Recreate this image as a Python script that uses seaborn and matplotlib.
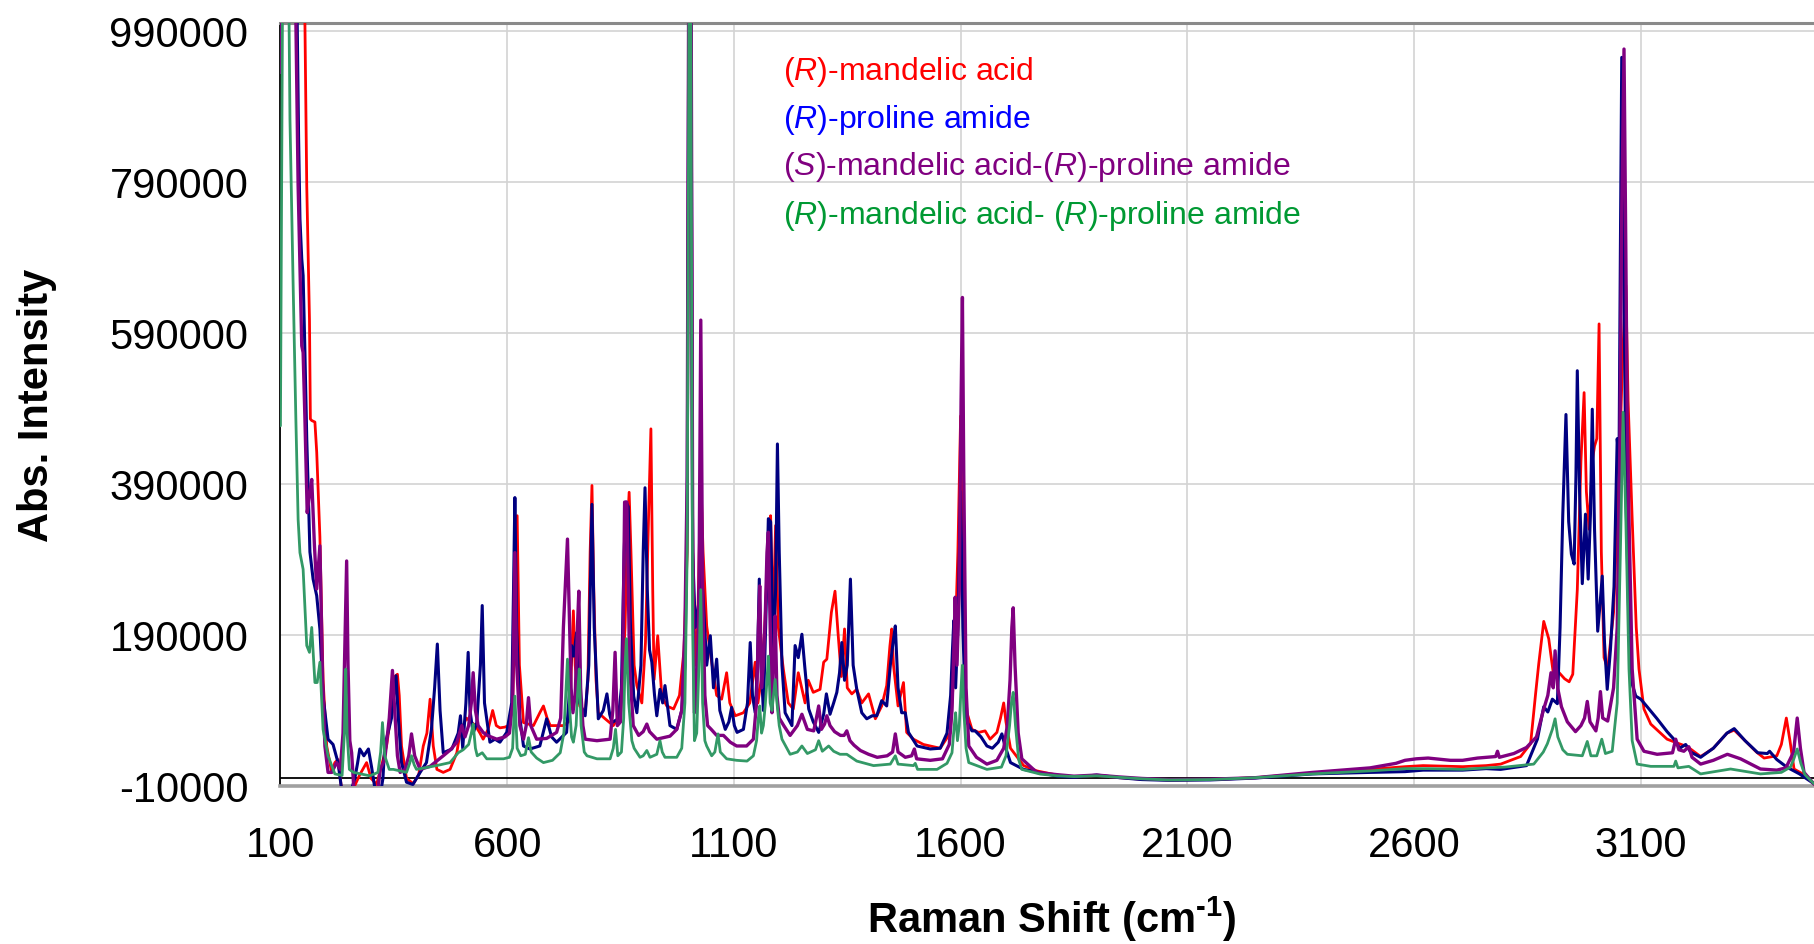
import numpy as np
import pandas as pd
import matplotlib
matplotlib.use("Agg")
import matplotlib.pyplot as plt
import seaborn as sns

# --------------------------------------------------------
# Raman spectra, values
# (Raman shift in cm-1, absolute intensity)
# --------------------------------------------------------

red_pts = [(100, 1300000), (140, 1250000), (150, 1150000), (154, 1000000), (158, 785000), (164, 608000),
    (166, 476000), (169, 474000), (176, 472000), (180, 432000), (187, 320000), (194, 131000), (202, 43000),
    (213, 8000), (220, 21000), (227, 25000), (235, -15000), (250, -20000), (262, -12000), (275, 5000),
    (290, 21000), (300, 0), (312, -8000), (323, 17000), (334, 43000), (345, 90000), (352, 135000),
    (358, 138000), (362, 110000), (367, 43000), (378, 0), (393, -7000), (405, 5000), (415, 43000),
    (423, 60000), (430, 105000), (437, 43000), (445, 12000), (459, 8000), (474, 12000), (489, 34000),
    (496, 61000), (503, 70000), (510, 80000), (520, 75000), (530, 70000), (540, 60000), (547, 52000),
    (558, 65000), (568, 90000), (576, 70000), (584, 67000), (595, 68000), (603, 70000), (612, 100000),
    (617, 200000), (622, 348000), (627, 150000), (636, 74000), (658, 70000), (672, 87000), (680, 96000),
    (688, 80000), (695, 70000), (724, 70000), (735, 75000), (740, 120000), (746, 222000), (750, 150000),
    (753, 131000), (760, 96000), (772, 87000), (778, 130000), (783, 300000), (787, 388000), (791, 250000),
    (796, 130000), (801, 87000), (816, 79000), (834, 70000), (850, 85000), (860, 200000), (865, 330000),
    (869, 379000), (873, 300000), (880, 150000), (886, 123000), (897, 100000), (905, 180000), (912, 350000),
    (917, 463000), (921, 250000), (924, 131000), (932, 189000), (941, 109000), (952, 96000), (967, 92000),
    (980, 110000), (990, 170000), (997, 300000), (1003, 1500000), (1009, 300000), (1015, 150000),
    (1020, 200000), (1027, 400000), (1032, 300000), (1040, 202000), (1051, 154000), (1062, 110000),
    (1073, 105000), (1084, 140000), (1091, 100000), (1103, 83000), (1121, 87000), (1135, 100000),
    (1147, 154000), (1153, 100000), (1160, 130000), (1168, 200000), (1176, 317000), (1181, 348000),
    (1186, 200000), (1192, 335000), (1198, 200000), (1209, 145000), (1220, 100000), (1231, 92000),
    (1242, 140000), (1257, 100000), (1264, 130000), (1275, 114000), (1290, 118000), (1298, 154000),
    (1305, 158000), (1315, 220000), (1323, 248000), (1330, 190000), (1337, 135000), (1344, 198000),
    (1350, 120000), (1360, 112000), (1371, 118000), (1382, 100000), (1397, 112000), (1412, 79000),
    (1426, 96000), (1437, 123000), (1444, 175000), (1448, 198000), (1452, 150000), (1462, 96000),
    (1474, 127000), (1481, 61000), (1496, 52000), (1518, 45000), (1555, 40000), (1577, 60000),
    (1586, 150000), (1590, 220000), (1594, 300000), (1600, 480000), (1604, 300000), (1609, 140000),
    (1614, 87000), (1625, 65000), (1640, 61000), (1654, 63000), (1665, 52000), (1680, 61000),
    (1688, 80000), (1695, 100000), (1700, 75000), (1710, 40000), (1739, 17000), (1768, 10000),
    (1813, 4400), (1850, 2000), (1900, 4000), (1950, 1000), (2000, -1000), (2060, -2000), (2150, -1500),
    (2250, 1000), (2376, 7000), (2503, 12000), (2580, 15600), (2620, 17000), (2707, 15600), (2759, 17000),
    (2791, 19000), (2835, 29000), (2857, 46000), (2868, 112000), (2875, 152000), (2886, 208000),
    (2897, 185000), (2908, 135000), (2920, 140000), (2932, 132000), (2942, 128000), (2950, 138000),
    (2960, 250000), (2968, 420000), (2975, 511000), (2980, 380000), (2986, 330000), (2993, 420000),
    (2998, 440000), (3003, 450000), (3008, 602000), (3013, 300000), (3019, 160000), (3027, 145000),
    (3040, 220000), (3052, 400000), (3060, 560000), (3067, 653000), (3072, 500000), (3081, 344000),
    (3090, 200000), (3096, 145000), (3107, 92000), (3122, 72000), (3140, 62000), (3158, 52000),
    (3180, 47000), (3203, 42000), (3232, 29000), (3260, 40000), (3290, 60000), (3306, 64000),
    (3330, 50000), (3355, 35000), (3372, 27000), (3400, 30000), (3410, 45000), (3421, 80000),
    (3429, 50000), (3438, 12500), (3467, 2600), (3482, -7500)]

blue_pts = [(100, 1300000), (130, 1200000), (136, 1050000), (140, 850000), (143, 741000), (147, 688000),
    (150, 666000), (154, 564000), (158, 450000), (161, 388000), (165, 300000), (172, 264000), (180, 242000),
    (187, 198000), (194, 109000), (205, 52000), (216, 45000), (227, 21000), (235, -15000), (250, -20000),
    (258, -12000), (264, 0), (270, 20000), (275, 39000), (284, 30000), (294, 39000), (301, 15000),
    (308, -12000), (322, -15000), (326, 0), (330, 43000), (345, 80000), (350, 110000), (355, 136000),
    (360, 80000), (367, 21000), (378, -5000), (392, -8000), (408, 8000), (422, 21000), (433, 65000),
    (440, 120000), (446, 178000), (452, 90000), (459, 34000), (478, 39000), (492, 60000), (497, 83000),
    (502, 40000), (509, 100000), (514, 167000), (518, 90000), (525, 60000), (533, 74000), (541, 150000),
    (545, 229000), (550, 100000), (562, 48000), (573, 52000), (584, 48000), (599, 61000), (610, 100000),
    (614, 250000), (617, 372000), (621, 200000), (628, 80000), (636, 43000), (650, 39000), (672, 43000),
    (687, 79000), (698, 55000), (709, 48000), (731, 61000), (738, 120000), (742, 176000), (747, 162000),
    (753, 193000), (760, 100000), (772, 83000), (780, 150000), (787, 363000), (792, 200000), (801, 79000),
    (812, 90000), (820, 112000), (826, 85000), (831, 74000), (845, 79000), (852, 120000), (858, 300000),
    (862, 366000), (867, 360000), (872, 200000), (879, 109000), (886, 87000), (895, 150000), (900, 300000),
    (904, 385000), (909, 250000), (914, 170000), (919, 154000), (925, 110000), (930, 83000), (937, 118000),
    (943, 100000), (948, 123000), (959, 70000), (974, 65000), (985, 90000), (992, 150000), (997, 350000),
    (1003, 1500000), (1009, 300000), (1015, 200000), (1022, 230000), (1027, 290000), (1033, 230000),
    (1040, 150000), (1048, 189000), (1055, 120000), (1062, 158000), (1069, 90000), (1081, 65000),
    (1089, 75000), (1095, 94000), (1101, 70000), (1107, 61000), (1121, 65000), (1130, 100000),
    (1136, 180000), (1141, 110000), (1147, 87000), (1152, 150000), (1156, 264000), (1160, 150000),
    (1165, 90000), (1170, 200000), (1176, 344000), (1181, 340000), (1187, 162000), (1192, 250000),
    (1196, 443000), (1200, 300000), (1206, 150000), (1213, 87000), (1228, 70000), (1235, 176000),
    (1242, 160000), (1250, 191000), (1256, 150000), (1265, 92000), (1275, 75000), (1287, 61000),
    (1298, 85000), (1304, 112000), (1312, 85000), (1320, 100000), (1327, 114000), (1333, 140000),
    (1338, 180000), (1344, 130000), (1350, 150000), (1357, 264000), (1363, 150000), (1371, 118000),
    (1382, 87000), (1393, 79000), (1405, 83000), (1415, 83000), (1426, 103000), (1437, 96000),
    (1445, 150000), (1451, 180000), (1456, 202000), (1462, 120000), (1470, 87000), (1478, 87000),
    (1485, 61000), (1504, 43000), (1533, 39000), (1555, 40000), (1570, 60000), (1578, 110000),
    (1582, 170000), (1585, 209000), (1589, 120000), (1594, 200000), (1600, 380000), (1605, 200000),
    (1610, 100000), (1614, 75000), (1625, 63000), (1632, 63000), (1645, 55000), (1658, 43000),
    (1670, 40000), (1683, 48000), (1691, 59000), (1697, 45000), (1710, 21000), (1739, 12000),
    (1813, 3000), (1850, 1500), (1900, 4500), (1950, 1000), (2000, -1500), (2060, -2500), (2150, -2000),
    (2250, 500), (2376, 6000), (2503, 8000), (2580, 9000), (2620, 11000), (2707, 11000), (2759, 13000),
    (2791, 12000), (2848, 17000), (2872, 52000), (2886, 95000), (2895, 88000), (2905, 105000),
    (2916, 99000), (2922, 200000), (2928, 350000), (2935, 482000), (2941, 340000), (2947, 297000),
    (2953, 284000), (2957, 400000), (2960, 540000), (2965, 380000), (2971, 258000), (2978, 350000),
    (2984, 264000), (2989, 350000), (2993, 489000), (2998, 330000), (3005, 195000), (3010, 230000),
    (3015, 268000), (3020, 180000), (3026, 118000), (3033, 170000), (3041, 254000), (3048, 450000),
    (3052, 420000), (3055, 700000), (3058, 955000), (3062, 700000), (3068, 354000), (3074, 200000),
    (3081, 125000), (3089, 109000), (3100, 105000), (3114, 95000), (3136, 79000), (3158, 62000),
    (3173, 52000), (3186, 40000), (3199, 45000), (3210, 35000), (3232, 28000), (3260, 40000),
    (3290, 60000), (3306, 66000), (3330, 50000), (3358, 34000), (3379, 33000), (3384, 36000),
    (3400, 25000), (3422, 15000), (3450, 6000), (3482, -7000)]

purple_pts = [(100, 935000), (102, 1300000), (128, 1250000), (133, 1050000), (139, 785000), (147, 573000),
    (150, 564000), (154, 476000), (159, 352000), (164, 375000), (169, 396000), (175, 308000),
    (180, 251000), (187, 308000), (193, 131000), (198, 43000), (205, 8000), (213, 8000), (224, 21000),
    (232, 12000), (238, 60000), (243, 200000), (246, 288000), (249, 150000), (253, 50000), (257, 34000),
    (262, -15000), (280, -20000), (315, -15000), (320, 12000), (330, 25000), (340, 80000), (347, 143000),
    (352, 90000), (358, 30000), (364, 8000), (375, 12000), (383, 30000), (389, 59000), (396, 30000),
    (408, 12000), (430, 16000), (459, 30000), (475, 38000), (489, 48000), (500, 70000), (507, 55000),
    (515, 70000), (521, 100000), (525, 140000), (530, 90000), (536, 70000), (547, 61000), (556, 57000),
    (577, 52000), (595, 55000), (605, 60000), (612, 100000), (617, 299000), (621, 150000), (628, 70000),
    (636, 52000), (642, 70000), (647, 107000), (652, 70000), (665, 52000), (687, 53000), (709, 61000),
    (718, 80000), (724, 200000), (730, 280000), (733, 317000), (737, 220000), (741, 120000), (745, 87000),
    (750, 110000), (755, 200000), (758, 248000), (762, 120000), (767, 70000), (772, 52000), (798, 50000),
    (827, 52000), (833, 90000), (838, 167000), (843, 70000), (850, 75000), (855, 150000), (859, 366000),
    (864, 366000), (870, 150000), (878, 70000), (890, 57000), (900, 62000), (908, 72000), (914, 62000),
    (930, 52000), (959, 56000), (974, 65000), (985, 90000), (992, 200000), (997, 400000), (1003, 1600000),
    (1009, 350000), (1013, 87000), (1018, 100000), (1023, 250000), (1027, 607000), (1031, 250000),
    (1036, 110000), (1042, 70000), (1050, 65000), (1062, 57000), (1077, 57000), (1092, 48000),
    (1106, 43000), (1128, 43000), (1143, 52000), (1150, 100000), (1154, 200000), (1157, 255000),
    (1161, 120000), (1165, 150000), (1169, 211000), (1173, 300000), (1176, 326000), (1179, 230000),
    (1184, 87000), (1187, 150000), (1191, 215000), (1195, 110000), (1200, 80000), (1210, 70000),
    (1224, 57000), (1240, 70000), (1250, 85000), (1262, 65000), (1276, 63000), (1282, 80000),
    (1287, 96000), (1293, 65000), (1300, 72000), (1305, 83000), (1312, 70000), (1322, 62000),
    (1335, 57000), (1343, 57000), (1349, 63000), (1356, 50000), (1365, 44000), (1379, 37000),
    (1397, 32000), (1416, 28000), (1438, 30000), (1450, 35000), (1456, 59000), (1462, 35000),
    (1478, 28000), (1492, 30000), (1498, 39000), (1503, 26000), (1533, 24000), (1560, 26000),
    (1575, 45000), (1581, 90000), (1585, 170000), (1588, 240000), (1592, 150000), (1597, 250000),
    (1601, 500000), (1604, 637000), (1607, 400000), (1612, 120000), (1618, 43000), (1635, 28000),
    (1658, 19000), (1680, 24000), (1695, 40000), (1703, 70000), (1709, 130000), (1713, 200000),
    (1716, 226000), (1720, 150000), (1727, 60000), (1735, 26000), (1768, 8000), (1813, 5000),
    (1850, 3000), (1900, 4500), (1950, 2000), (2000, 0), (2060, -1500), (2150, -1000), (2250, 1000),
    (2376, 8000), (2503, 14000), (2560, 20000), (2580, 24000), (2605, 26000), (2631, 27000),
    (2680, 24000), (2707, 24000), (2740, 27000), (2759, 28000), (2780, 29000), (2784, 36000),
    (2788, 28000), (2820, 33000), (2848, 41000), (2870, 55000), (2885, 90000), (2895, 110000),
    (2902, 140000), (2907, 120000), (2911, 169000), (2917, 119000), (2925, 95000), (2938, 75000),
    (2956, 62000), (2968, 70000), (2976, 80000), (2982, 102000), (2988, 75000), (3001, 63000),
    (3006, 80000), (3011, 115000), (3016, 80000), (3027, 76000), (3040, 120000), (3048, 200000),
    (3054, 450000), (3058, 750000), (3063, 966000), (3067, 700000), (3070, 480000), (3074, 344000),
    (3081, 145000), (3092, 52000), (3107, 36000), (3136, 32000), (3170, 34000), (3177, 52000),
    (3184, 38000), (3195, 36000), (3206, 42000), (3213, 28000), (3232, 19000), (3260, 24000),
    (3291, 32000), (3320, 26000), (3364, 12500), (3400, 11000), (3420, 14000), (3437, 35000),
    (3445, 80000), (3452, 40000), (3460, 8000), (3482, -7500)]

green_pts = [(100, 467000), (106, 1200000), (116, 1200000), (121, 873000), (128, 653000), (134, 476000),
    (139, 343000), (143, 299000), (150, 277000), (158, 176000), (164, 167000), (169, 200000), (176, 127000),
    (181, 127000), (187, 154000), (194, 65000), (205, 30000), (220, 6000), (236, 4000), (241, 60000),
    (244, 145000), (247, 60000), (252, 12000), (261, 8000), (297, 3500), (315, 8000), (321, 35000),
    (325, 74000), (330, 30000), (340, 12000), (349, 12000), (378, 8000), (385, 20000), (389, 30000),
    (395, 18000), (400, 12000), (444, 17000), (474, 21000), (492, 34000), (503, 38000), (515, 45000),
    (521, 60000), (525, 72000), (530, 40000), (534, 30000), (545, 34000), (555, 26000), (592, 26000),
    (605, 28000), (612, 40000), (617, 109000), (622, 40000), (630, 30000), (640, 32000), (647, 54000),
    (653, 35000), (665, 27000), (680, 21000), (700, 24000), (717, 34000), (725, 60000), (730, 120000),
    (733, 158000), (737, 100000), (742, 55000), (746, 48000), (752, 70000), (755, 110000), (759, 145000),
    (763, 70000), (770, 35000), (776, 30000), (798, 26000), (827, 26000), (834, 40000), (839, 65000),
    (844, 30000), (852, 35000), (857, 80000), (860, 150000), (863, 185000), (868, 100000), (875, 50000),
    (880, 40000), (893, 28000), (900, 30000), (908, 37000), (915, 28000), (930, 32000), (937, 50000),
    (942, 35000), (948, 28000), (974, 28000), (985, 40000), (992, 100000), (997, 300000), (1003, 1400000),
    (1009, 200000), (1013, 50000), (1018, 60000), (1023, 150000), (1027, 250000), (1031, 100000),
    (1036, 50000), (1040, 43000), (1051, 30000), (1058, 35000), (1065, 59000), (1070, 35000),
    (1084, 26000), (1106, 24000), (1129, 23000), (1143, 30000), (1150, 50000), (1154, 80000),
    (1157, 96000), (1161, 60000), (1165, 70000), (1169, 96000), (1173, 130000), (1176, 162000),
    (1180, 100000), (1184, 90000), (1191, 131000), (1195, 100000), (1200, 70000), (1206, 52000),
    (1224, 32000), (1240, 35000), (1250, 43000), (1262, 33000), (1280, 38000), (1287, 50000),
    (1295, 36000), (1309, 43000), (1320, 36000), (1334, 32000), (1349, 32000), (1371, 23000),
    (1408, 17000), (1445, 19000), (1456, 30000), (1462, 19000), (1496, 17000), (1500, 20000),
    (1505, 12000), (1548, 12000), (1570, 20000), (1581, 34000), (1586, 70000), (1589, 87000),
    (1593, 50000), (1597, 70000), (1601, 120000), (1604, 150000), (1607, 90000), (1612, 40000),
    (1618, 21000), (1658, 12000), (1690, 15000), (1700, 30000), (1708, 70000), (1712, 100000),
    (1716, 114000), (1721, 70000), (1728, 25000), (1735, 12000), (1776, 5700), (1813, 3500),
    (1850, 2500), (1900, 3500), (1950, 1500), (2000, -500), (2060, -2000), (2150, -1500), (2250, 1000),
    (2376, 6000), (2503, 10000), (2580, 13000), (2631, 13000), (2707, 12000), (2759, 14000),
    (2800, 15000), (2864, 19000), (2885, 35000), (2894, 46000), (2905, 65000), (2911, 79000),
    (2917, 55000), (2928, 38000), (2938, 32000), (2971, 30000), (2982, 49000), (2990, 30000),
    (3003, 30000), (3014, 52000), (3022, 33000), (3037, 36000), (3048, 100000), (3055, 300000),
    (3061, 485000), (3067, 344000), (3074, 145000), (3081, 50000), (3092, 19000), (3122, 16000),
    (3173, 16000), (3177, 23000), (3182, 14000), (3206, 16000), (3232, 6000), (3298, 12500),
    (3364, 6000), (3410, 8000), (3430, 15000), (3437, 25000), (3445, 39000), (3453, 20000),
    (3462, 5000), (3482, -7000)]

series_names = ["(R)-mandelic acid", "(R)-proline amide",
                "(S)-mandelic acid-(R)-proline amide", "(R)-mandelic acid- (R)-proline amide"]
legend_labels = [r"($\mathit{R}$)-mandelic acid",
                 r"($\mathit{R}$)-proline amide",
                 r"($\mathit{S}$)-mandelic acid-($\mathit{R}$)-proline amide",
                 r"($\mathit{R}$)-mandelic acid- ($\mathit{R}$)-proline amide"]
x_ticks = [100, 600, 1100, 1600, 2100, 2600, 3100]
y_ticks = [-10000, 190000, 390000, 590000, 790000, 990000]

line_colors = ["#ff0000", "#000080", "#800080", "#339966"]
text_colors = ["#ff0000", "#0000ff", "#800080", "#009933"]
line_widths = [2.0, 2.2, 2.4, 2.0]

# build one long table for seaborn
frames = []
for name, pts in zip(series_names, [red_pts, blue_pts, purple_pts, green_pts]):
    d = pd.DataFrame(pts, columns=["shift", "intensity"])
    d["sample"] = name
    frames.append(d)
df = pd.concat(frames, ignore_index=True)

# --------------------------------------------------------
# style
# --------------------------------------------------------
sns.set_style("white")
plt.rcParams['font.family'] = ['Liberation Sans', 'DejaVu Sans']
plt.rcParams['mathtext.fontset'] = 'custom'
plt.rcParams['mathtext.rm'] = 'Liberation Sans:bold'
plt.rcParams['mathtext.it'] = 'Liberation Sans:italic'
plt.rcParams['mathtext.bf'] = 'Liberation Sans:bold'
plt.rcParams['text.color'] = 'black'
plt.rcParams['axes.labelcolor'] = 'black'

fig = plt.figure(figsize=(18.14, 9.45), dpi=100)
ax = fig.add_axes([0.1546, 0.1672, 0.8454, 0.807])

# draw in the same order as the original (green ends up on top)
for name, c, lw in zip(series_names, line_colors, line_widths):
    sns.lineplot(data=df[df["sample"] == name], x="shift", y="intensity", color=c,
                 linewidth=lw, estimator=None, sort=False, legend=False, ax=ax, zorder=3)

ax.axhline(0, color="black", linewidth=1.3, zorder=2)

ax.set_xlim(100, 3482)
ax.set_ylim(-10000, 1000000)
ax.set_xticks(x_ticks)
ax.set_xticklabels([str(v) for v in x_ticks])
ax.set_yticks(y_ticks)
ax.set_yticklabels([str(v) for v in y_ticks])

ax.set_axisbelow(True)
ax.grid(True, color="#d3d3d3", linewidth=1.2)

ax.spines["right"].set_visible(False)
ax.spines["top"].set_color("#8a8a8a")
ax.spines["top"].set_linewidth(2.2)
ax.spines["bottom"].set_color("#a0a0a0")
ax.spines["bottom"].set_linewidth(2.6)
ax.spines["left"].set_color("black")
ax.spines["left"].set_linewidth(1.3)

ax.tick_params(axis="y", direction="out", length=9, width=1.2, color="black",
               labelcolor="black", labelsize=30, pad=14)
ax.tick_params(axis="x", direction="out", length=6, width=1.2, color="black",
               labelcolor="black", labelsize=30, pad=22)

# superscript written with a plain hyphen, like the original
ax.set_xlabel(r"Raman Shift (cm$^{\text{-1}}$)", fontsize=30, fontweight="bold", va="center", color="black")
ax.xaxis.set_label_coords(0.503, -0.174)
ax.set_ylabel("Abs. Intensity", fontsize=30, fontweight="bold", va="center", color="black")
ax.yaxis.set_label_coords(-0.1588, 0.501)

# coloured legend text in the plot area
legend_y = [0.9271, 0.8642, 0.8026, 0.7384]
for lab, c, yy in zip(legend_labels, text_colors, legend_y):
    ax.text(0.3277, yy, lab, color=c, fontsize=23, transform=ax.transAxes, va="baseline", ha="left")

fig.savefig("out.png", dpi=100)
